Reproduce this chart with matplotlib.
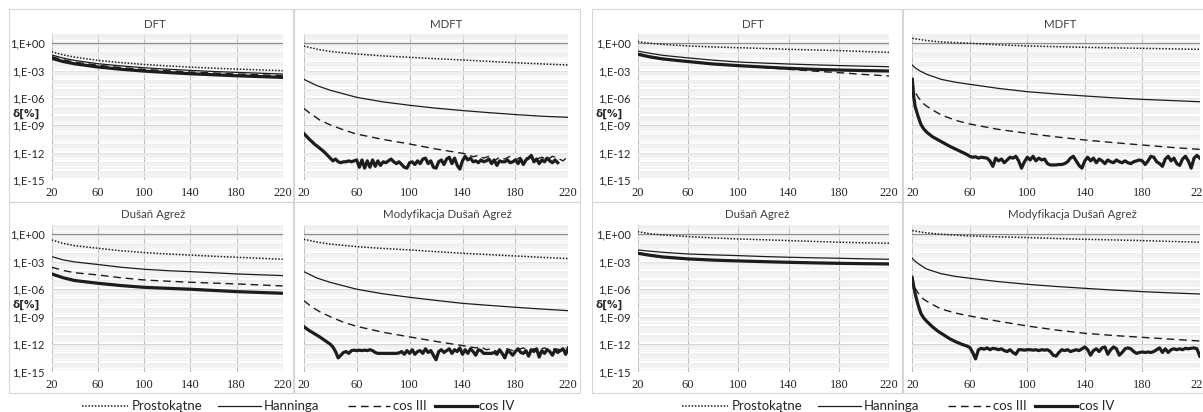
import matplotlib

matplotlib.use("Agg")

import matplotlib.pyplot as plt
import numpy as np
from matplotlib.lines import Line2D
from matplotlib.patches import Rectangle
from matplotlib.ticker import FixedLocator, LogLocator, NullFormatter

W, H = 1203, 412

# ---- data (values are log10 of delta[%]) ----
x_smooth = [20, 30, 40, 60, 80, 100, 120, 140, 160, 180, 200, 220]
x_fast = [20, 22, 25, 30, 40, 50, 60, 80, 100, 120, 140, 160, 180, 200, 220]
x_steep = [20, 21, 22, 24, 26, 28, 30, 35, 40, 50, 60, 80, 100, 120, 140, 160, 180, 200, 220]
x_drop = [20, 21, 22, 24, 26, 28, 30, 34, 38, 42, 46, 50, 54, 58]
x_drop_left = [20, 24, 28, 32, 36, 40]
x_tail_left = [20, 24, 28, 32, 40, 50, 60, 80, 100, 120, 140]
x_tail_left2 = [20, 24, 28, 32, 40, 50, 60, 80, 100, 120, 140, 150]

x_ticks = [20, 60, 100, 140, 180, 220]
y_ticks = [1e-15, 1e-12, 1e-9, 1e-6, 1e-3, 1e0]
y_tick_labels = ["1,E-15", "1,E-12", "1,E-09", "1,E-06", "1,E-03", "1,E+00"]
series_names = ["Prostokątne", "Hanninga", "cos III", "cos IV"]
titles = ["DFT", "MDFT", "Dušaň Agrež", "Modyfikacja Dušaň Agrež"]

# left block
l_dft_rect = [-0.92, -1.27, -1.52, -1.87, -2.12, -2.32, -2.48, -2.61, -2.73, -2.83, -2.92, -3.00]
l_dft_hann = [-1.28, -1.63, -1.88, -2.24, -2.48, -2.68, -2.84, -2.97, -3.09, -3.19, -3.28, -3.37]
l_dft_cos3 = [-1.46, -1.81, -2.06, -2.41, -2.66, -2.86, -3.01, -3.15, -3.26, -3.37, -3.46, -3.54]
l_dft_cos4 = [-1.65, -2.00, -2.25, -2.60, -2.85, -3.05, -3.20, -3.34, -3.45, -3.56, -3.65, -3.74]

l_mdft_rect = [-0.30, -0.65, -0.90, -1.17, -1.38, -1.54, -1.69, -1.83, -1.98, -2.13, -2.26, -2.38]
l_mdft_hann = [-3.95, -4.65, -5.15, -5.93, -6.43, -6.80, -7.12, -7.38, -7.61, -7.82, -8.00, -8.12]
l_mdft_cos3 = [-7.14, -7.60, -8.00, -8.42, -8.95, -9.50, -9.96, -10.55, -11.05, -11.60, -12.07]
l_mdft_cos3_tail = [-12.2, -12.45, -12.3, -12.6, -12.4, -12.9, -12.5, -12.7, -12.4, -12.8,
                    -12.5, -12.6, -12.4, -12.7, -12.5, -12.8, -12.4, -12.6, -12.9, -12.4]
l_mdft_cos4 = [-9.9, -10.5, -11.05, -11.5, -12.0, -12.6]
l_mdft_cos4_tail = [
    -12.9, -12.7, -13.0, -13.1, -13.0, -13.0, -12.9, -13.0, -12.9, -12.8,
    -13.6, -12.8, -13.7, -12.9, -13.6, -12.8, -13.5, -12.9, -13.4, -13.0,
    -13.1, -12.9, -12.7, -13.0, -13.2, -13.0, -13.3, -13.6, -13.7, -13.1,
    -13.0, -13.3, -12.9, -13.2, -12.7, -12.6, -13.2, -12.9, -13.6, -13.7,
    -13.0, -12.8, -13.3, -12.7, -12.5, -13.2, -12.6, -13.4, -13.8, -12.9,
    -12.4, -12.8, -12.6, -13.0, -12.9, -13.1, -12.8, -13.0, -12.9, -12.7,
    -13.2, -12.8, -13.4, -12.9, -13.0, -13.0, -12.8, -13.1, -13.0, -12.8,
    -13.2, -12.7, -13.3, -12.8, -12.6, -12.3, -13.0, -12.7, -13.2, -12.8,
    -13.0, -12.6, -12.9, -13.1, -12.8, -13.1,
]

l_da_rect = [-0.62, -1.00, -1.25, -1.53, -1.80, -2.00, -2.15, -2.27, -2.40, -2.51, -2.62, -2.73]
l_da_hann = [-2.44, -2.80, -3.02, -3.30, -3.60, -3.82, -3.97, -4.08, -4.20, -4.33, -4.42, -4.51]
l_da_cos3 = [-3.60, -3.95, -4.20, -4.44, -4.75, -4.99, -5.12, -5.24, -5.33, -5.42, -5.53, -5.64]
l_da_cos4 = [-4.33, -4.75, -5.05, -5.35, -5.60, -5.79, -5.90, -6.00, -6.13, -6.26, -6.35, -6.44]

l_mda_rect = [-0.55, -0.85, -1.07, -1.35, -1.55, -1.71, -1.90, -2.07, -2.22, -2.37, -2.52, -2.66]
l_mda_hann = [-4.08, -4.78, -5.25, -6.00, -6.50, -6.88, -7.22, -7.54, -7.76, -7.97, -8.16, -8.34]
l_mda_cos3 = [-7.24, -7.70, -8.10, -8.45, -9.00, -9.60, -10.05, -10.70, -11.20, -11.70, -12.15, -12.40]
l_mda_cos3_tail = [-12.3, -12.6, -12.5, -12.8, -12.6, -12.5, -12.7, -12.6, -12.4,
                   -12.7, -12.5, -12.6, -12.4, -12.7, -12.5, -12.6, -12.4]
l_mda_cos4 = [-10.09, -10.5, -10.85, -11.2, -11.6, -12.0]
l_mda_cos4_tail = [
    -12.3, -12.8, -13.5, -13.2, -12.9, -12.8, -13.0, -12.7, -12.65, -12.7,
    -12.65, -12.7, -12.65, -12.7, -12.6, -12.7, -12.9, -13.0, -13.0, -13.0,
    -13.0, -13.0, -13.0, -13.0, -13.0, -12.95, -12.8, -13.1, -12.7, -13.0,
    -12.6, -13.1, -12.8, -12.7, -13.0, -12.5, -12.9, -12.7, -13.2, -13.7,
    -12.8, -12.6, -12.9, -12.7, -12.5, -13.0, -12.6, -12.8, -12.4, -13.1,
    -12.6, -13.0, -12.5, -12.8, -13.2, -12.6, -12.7, -13.0, -13.0, -13.0,
    -13.0, -12.9, -13.1, -12.6, -13.0, -13.5, -12.7, -12.9, -13.2, -12.8,
    -12.5, -12.9, -13.0, -12.7, -13.3, -12.6, -12.8, -12.5, -13.4, -12.7,
    -13.0, -12.6, -12.8, -13.2, -12.6, -12.9, -12.7, -12.5, -13.1, -12.4,
]

# right block
r_dft_rect = [0.18, 0.00, -0.12, -0.29, -0.40, -0.48, -0.57, -0.66, -0.73, -0.80, -0.90, -0.99]
r_dft_hann = [-0.85, -1.10, -1.32, -1.60, -1.85, -2.05, -2.17, -2.27, -2.36, -2.44, -2.51, -2.57]
r_dft_cos3 = [-1.10, -1.42, -1.66, -1.98, -2.25, -2.45, -2.65, -2.85, -3.05, -3.22, -3.42, -3.59]
r_dft_cos4 = [-1.20, -1.50, -1.72, -2.00, -2.27, -2.45, -2.60, -2.75, -2.85, -2.93, -2.99, -3.04]

r_mdft_rect = [0.55, 0.30, 0.15, 0.00, -0.16, -0.29, -0.37, -0.44, -0.50, -0.55, -0.61, -0.66]
r_mdft_hann = [-2.38, -2.70, -3.00, -3.40, -3.95, -4.27, -4.50, -4.95, -5.31, -5.56, -5.78,
               -5.98, -6.15, -6.28, -6.41]
r_mdft_cos3 = [-4.2, -4.9, -5.35, -5.9, -6.3, -6.65, -6.9, -7.4, -7.85, -8.45, -8.86, -9.45,
               -9.88, -10.27, -10.61, -10.9, -11.16, -11.42, -11.64]
r_mdft_cos4 = [-3.95, -5.9, -6.96, -8.0, -8.9, -9.4, -9.75, -10.25, -10.6, -10.95, -11.3,
               -11.6, -11.9, -12.2]
r_mdft_cos4_tail = [
    -12.4, -12.5, -12.45, -12.6, -12.5, -12.55, -12.6, -12.9, -13.5, -12.6,
    -12.9, -12.7, -13.1, -12.8, -12.5, -12.6, -12.4, -12.9, -13.7, -13.0,
    -12.5, -12.8, -12.4, -12.9, -12.6, -12.8, -12.7, -13.2, -13.35, -13.35,
    -13.35, -13.3, -13.3, -13.2, -13.0, -12.6, -12.4, -12.9, -13.4, -13.7,
    -12.9, -12.5, -12.9, -12.6, -13.1, -12.7, -12.9, -13.2, -12.8, -13.0,
    -13.1, -12.8, -13.0, -13.1, -12.9, -13.1, -13.2, -13.0, -12.9, -12.8,
    -12.9, -13.3, -12.9, -12.4, -12.5, -13.0, -13.2, -13.5, -12.7, -12.4,
    -12.9, -12.6, -13.2, -13.4, -12.7, -12.4, -12.9, -13.7, -12.6, -12.3,
    -12.6,
]

r_da_rect = [0.29, 0.05, -0.08, -0.25, -0.40, -0.51, -0.60, -0.69, -0.78, -0.87, -0.93, -0.98]
r_da_hann = [-1.71, -1.85, -1.97, -2.15, -2.25, -2.33, -2.43, -2.51, -2.57, -2.62, -2.68, -2.73]
r_da_cos3 = [-2.00, -2.25, -2.44, -2.66, -2.80, -2.90, -2.99, -3.07, -3.14, -3.20, -3.25, -3.30]
r_da_cos4 = [-2.07, -2.30, -2.48, -2.69, -2.82, -2.91, -2.99, -3.06, -3.12, -3.17, -3.21, -3.24]

r_mda_rect = [0.40, 0.15, 0.00, -0.18, -0.28, -0.36, -0.46, -0.55, -0.62, -0.69, -0.78, -0.87]
r_mda_hann = [-2.62, -2.95, -3.30, -3.80, -4.30, -4.60, -4.80, -5.17, -5.46, -5.70, -5.90,
              -6.09, -6.26, -6.40, -6.52]
r_mda_cos3 = [-4.5, -5.4, -5.9, -6.4, -6.8, -7.1, -7.3, -7.75, -8.15, -8.6, -8.92, -9.5,
              -10.01, -10.45, -10.81, -11.05, -11.25, -11.45, -11.65]
r_mda_cos4 = [-4.8, -5.7, -6.5, -7.7, -8.65, -9.15, -9.5, -10.1, -10.6, -11.0, -11.4,
              -11.72, -11.98, -12.2]
r_mda_cos4_tail = [
    -12.35, -12.9, -13.6, -12.6, -12.45, -12.55, -12.4, -12.6, -12.45, -12.5,
    -12.6, -12.5, -12.7, -12.8, -12.6, -12.9, -13.1, -12.6, -12.6, -12.65,
    -12.6, -12.6, -12.65, -12.6, -12.7, -12.6, -12.65, -12.6, -12.8, -13.2,
    -13.3, -12.9, -12.6, -12.7, -12.6, -12.8, -12.7, -12.6, -12.7, -12.5,
    -12.3, -12.6, -13.2, -12.7, -12.5, -12.8, -12.4, -12.3, -13.1, -12.6,
    -12.3, -12.5, -13.2, -12.9, -12.5, -12.4, -12.5, -12.8, -13.0, -12.9,
    -12.85, -12.9, -12.85, -12.9, -12.8, -12.6, -12.4, -12.9, -12.5, -12.9,
    -12.6, -12.5, -12.6, -12.5, -12.6, -12.45, -12.5, -12.45, -12.4, -12.5,
    -13.3,
]

TEXT = "#404040"
LINE = "#1c1c1c"
styles = [
    dict(lw=1.1, ls=(0, (1.0, 1.1)), dash_capstyle="butt"),
    dict(lw=0.9, ls="-"),
    dict(lw=1.0, ls=(0, (5.5, 3.5)), dash_capstyle="butt"),
    dict(lw=2.3, ls="-"),
]


def tail_x(start, values, step=2):
    return list(np.arange(start, start + step * len(values), step))


def setup(ax, show_y):
    ax.set_yscale("log")
    ax.set_xlim(20, 220)
    ax.set_ylim(1e-15, 1e1)
    ax.set_xticks(x_ticks)
    ax.set_xticklabels([str(t) for t in x_ticks], family="Liberation Serif", fontsize=9, color="#262626")
    ax.yaxis.set_major_locator(FixedLocator(y_ticks))
    ax.yaxis.set_minor_locator(LogLocator(base=10, subs=np.arange(1, 10), numticks=40))
    ax.yaxis.set_minor_formatter(NullFormatter())
    if show_y:
        ax.set_yticklabels(y_tick_labels, family="Lato", fontsize=8, color="#262626")
        ax.text(-0.112, 0.455, "δ[%]", transform=ax.transAxes, ha="center", va="center",
                fontsize=7.5, fontweight="bold", color="#262626", family="DejaVu Sans")
    else:
        ax.set_yticklabels([])
    ax.tick_params(axis="both", which="both", length=0)
    ax.tick_params(axis="x", pad=5)
    ax.tick_params(axis="y", pad=5)
    ax.grid(True, which="minor", axis="y", color="#ededed", lw=0.45)
    ax.grid(True, which="major", axis="y", color="#d4d4d4", lw=0.7)
    ax.grid(True, which="major", axis="x", color="#b4b4b4", lw=0.8)
    ax.axhline(1.0, color="#8c8c8c", lw=0.9, zorder=1.5)
    for s in ax.spines.values():
        s.set_visible(False)
    ax.set_axisbelow(True)


def draw(ax, series):
    for (xs, exps), st in zip(series, styles):
        ax.plot(xs, np.power(10.0, exps), color=LINE, zorder=3, **st)


fig = plt.figure(figsize=(W / 100, H / 100), dpi=100)

charts = [
    ((51.7, 34.2, 282.7, 180.0), True, [(x_smooth, l_dft_rect), (x_smooth, l_dft_hann),
                                         (x_smooth, l_dft_cos3), (x_smooth, l_dft_cos4)]),
    ((303.8, 34.2, 568.3, 180.0), False, [
        (x_smooth, l_mdft_rect), (x_smooth, l_mdft_hann),
        (x_tail_left + tail_x(144, l_mdft_cos3_tail, 4), l_mdft_cos3 + l_mdft_cos3_tail),
        (x_drop_left + tail_x(42, l_mdft_cos4_tail), l_mdft_cos4 + l_mdft_cos4_tail)]),
    ((51.7, 225.1, 282.7, 371.7), True, [(x_smooth, l_da_rect), (x_smooth, l_da_hann),
                                          (x_smooth, l_da_cos3), (x_smooth, l_da_cos4)]),
    ((303.8, 225.1, 568.3, 371.7), False, [
        (x_smooth, l_mda_rect), (x_smooth, l_mda_hann),
        (x_tail_left2 + tail_x(154, l_mda_cos3_tail, 4), l_mda_cos3 + l_mda_cos3_tail),
        (x_drop_left + tail_x(42, l_mda_cos4_tail), l_mda_cos4 + l_mda_cos4_tail)]),
    ((637.7, 34.2, 889.3, 180.0), True, [(x_smooth, r_dft_rect), (x_smooth, r_dft_hann),
                                          (x_smooth, r_dft_cos3), (x_smooth, r_dft_cos4)]),
    ((912.3, 34.2, 1199.8, 180.0), False, [
        (x_smooth, r_mdft_rect), (x_fast, r_mdft_hann), (x_steep, r_mdft_cos3),
        (x_drop + tail_x(60, r_mdft_cos4_tail), r_mdft_cos4 + r_mdft_cos4_tail)]),
    ((637.7, 225.1, 889.3, 371.7), True, [(x_smooth, r_da_rect), (x_smooth, r_da_hann),
                                           (x_smooth, r_da_cos3), (x_smooth, r_da_cos4)]),
    ((912.3, 225.1, 1199.8, 371.7), False, [
        (x_smooth, r_mda_rect), (x_fast, r_mda_hann), (x_steep, r_mda_cos3),
        (x_drop + tail_x(60, r_mda_cos4_tail), r_mda_cos4 + r_mda_cos4_tail)]),
]

for (l, t, r, b), show_y, series in charts:
    ax = fig.add_axes([l / W, 1 - b / H, (r - l) / W, (b - t) / H])
    setup(ax, show_y)
    draw(ax, series)

# chart-area frames
frames = [(9, 9, 293, 202), (294, 9, 580, 202), (9, 202, 293, 393), (294, 202, 580, 393),
          (592, 9, 902, 202), (903, 9, 1215, 202), (592, 202, 902, 393), (903, 202, 1215, 393)]
for x0, y0, x1, y1 in frames:
    fig.add_artist(Rectangle((x0 / W, 1 - y1 / H), (x1 - x0) / W, (y1 - y0) / H,
                             transform=fig.transFigure, fill=False, ec="#d6d6d6", lw=0.8))

# titles
title_pos = [(155, 25, 0), (446, 25, 1), (153, 215, 2), (447, 215, 3),
             (753, 25, 0), (1060, 25, 1), (757, 215, 2), (1072, 215, 3)]
for x, y, i in title_pos:
    fig.text(x / W, 1 - y / H, titles[i], ha="center", va="center", fontsize=8.3,
             family="Lato", color=TEXT)

# legends (drawn by hand, one per block)
legend_handles = [(82, 128), (218, 261), (348, 390), (435, 477)]
legend_text_x = [132, 264, 393, 479]
ly = 1 - 406 / H
for shift in (0, 600):
    for (h0, h1), tx, name, st in zip(legend_handles, legend_text_x, series_names, styles):
        fig.add_artist(Line2D([(h0 + shift) / W, (h1 + shift) / W], [ly, ly],
                              transform=fig.transFigure, color=LINE, **st))
        fig.text((tx + shift) / W, ly, name, ha="left", va="center", fontsize=9.5,
                 family="Lato", color="#262626")

fig.savefig("out.png", dpi=100)
